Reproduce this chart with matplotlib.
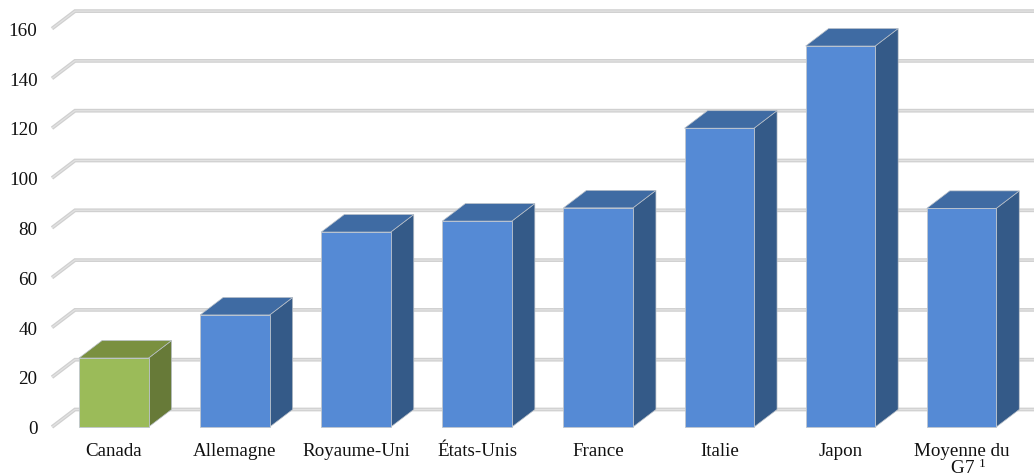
import matplotlib
matplotlib.use("Agg")
import matplotlib.pyplot as plt
from matplotlib.patches import Polygon

plt.rcParams['font.family'] = ['Liberation Serif', 'DejaVu Serif']
plt.rcParams['mathtext.fontset'] = 'custom'
plt.rcParams['mathtext.rm'] = 'Liberation Serif'
plt.rcParams['mathtext.default'] = 'rm'

categories = ["Canada", "Allemagne", "Royaume-Uni", "États-Unis", "France", "Italie", "Japon",
              "Moyenne du\n$\\ \\ $G7$^{\\ 1}$"]
values = [27.7, 45.0, 78.3, 82.7, 88.0, 120.0, 153.0, 87.8]
y_ticks = [0, 20, 40, 60, 80, 100, 120, 140, 160]
highlight = ["Canada"]

W, H = 1034, 477
PX_Y = 2.49
PX_X = 121.1
X0, Y0 = 113.8, 428
DX, DY = 23 / PX_X, 17.5 / PX_Y
BW = 69.5 / PX_X
GRID_L = (52 - X0) / PX_X
GRID_R = (W - X0) / PX_X
TICK_X = (37.5 - X0) / PX_X

fig = plt.figure(figsize=(W / 100, H / 100), dpi=100, facecolor="white")
ax = fig.add_axes([0, 0, 1, 1])
ax.set_xlim(-X0 / PX_X, (W - X0) / PX_X)
ax.set_ylim((Y0 - H) / PX_Y, Y0 / PX_Y)
ax.axis("off")

for t in y_ticks:
    xs = [GRID_L, GRID_L + DX, GRID_R]
    ys = [t, t + DY, t + DY]
    ax.plot(xs, ys, color="#d0d0d0", lw=2.7, zorder=1, solid_joinstyle="miter", solid_capstyle="butt")
    ax.plot(xs, ys, color="#e2e2e2", lw=0.9, zorder=1.1, solid_joinstyle="miter", solid_capstyle="butt")
    ax.text(TICK_X, t - 0.7, str(t), ha="right", va="center", fontsize=13.7, color="#111111")

for i, (c, v) in enumerate(zip(categories, values)):
    if c in highlight:
        front, top, side = "#9bbb59", "#7a9040", "#677a38"
    else:
        front, top, side = "#558ad5", "#3f6ba3", "#345a88"
    l, r = i - BW / 2, i + BW / 2
    z = 2 + i
    ax.add_patch(Polygon([(r, 0), (r + DX, DY), (r + DX, v + DY), (r, v)], fc=side, ec="#b9c0c8", lw=0.5, zorder=z))
    ax.add_patch(Polygon([(l, v), (r, v), (r + DX, v + DY), (l + DX, v + DY)], fc=top, ec="#b9c0c8", lw=0.5, zorder=z))
    ax.bar(i, v, width=BW, color=front, edgecolor="#bfc6ce", linewidth=0.6, zorder=z + 0.5)
    ax.text(i, -6.0, c, ha="center", va="top", fontsize=13.7, color="#111111", linespacing=0.9)

fig.savefig("out.png", dpi=100)
